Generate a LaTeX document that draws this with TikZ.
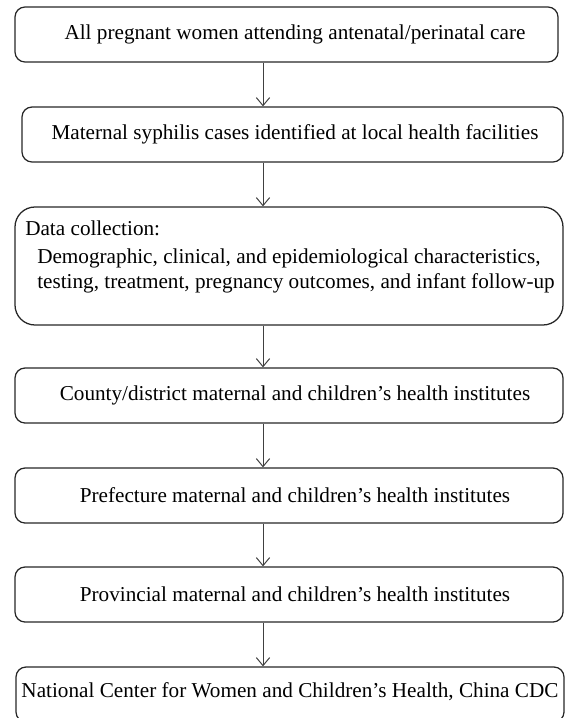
\documentclass[tikz,border=0pt]{standalone}
\usepackage{fontspec}
\setmainfont{Liberation Serif}
\usetikzlibrary{arrows.meta}
\begin{document}
\begin{tikzpicture}[x=0.75pt,y=-0.75pt,
  box/.style={draw=black!85, line width=0.95pt, rounded corners=7.5pt, inner sep=0pt, minimum height=41.25pt},
  bigbox/.style={draw=black!85, line width=0.95pt, rounded corners=15pt, inner sep=0pt},
  lbl/.style={font=\fontsize{15.9}{19}\selectfont, inner sep=0pt},
  arr/.style={draw=black!75, line width=0.75pt, -{Straight Barb[length=6pt,width=10pt]}}]
\useasboundingbox (0,0) rectangle (565,718);
\clip (0,0) rectangle (565,718);

% boxes
\node[box, minimum width=407.25pt] (b1) at (286.5,34.5) {};
\node[box, minimum width=405.75pt] (b2) at (292.5,134.5) {};
\node[bigbox, minimum width=411pt, minimum height=88.5pt] (b3) at (289,266) {};
\node[box, minimum width=411pt] (b4) at (289,395.5) {};
\node[box, minimum width=411pt] (b5) at (289,495.5) {};
\node[box, minimum width=411pt] (b6) at (289,594.5) {};
\node[box, minimum width=411pt] (b7) at (290,694.5) {};

% texts
\node[lbl] (t1) at (295,34) {All pregnant women attending antenatal/perinatal care};
\node[lbl] (t2) at (295,134) {Maternal syphilis cases identified at local health facilities};
\node[lbl, anchor=west] (t3a) at (25,228) {Data collection:};
\node[lbl, anchor=west, align=left] (t3b) at (37,271) {Demographic, clinical, and epidemiological characteristics,\\testing, treatment, pregnancy outcomes, and infant follow-up};
\node[lbl] (t4) at (295,395) {County/district maternal and children’s health institutes};
\node[lbl] (t5) at (295,495) {Prefecture maternal and children’s health institutes};
\node[lbl] (t6) at (295,594) {Provincial maternal and children’s health institutes};
\node[lbl] (t7) at (290,692) {National Center for Women and Children’s Health, China CDC};

% connectors
\coordinate (ax) at (263,0);
\draw[arr] (b1.south -| ax) -- (b2.north -| ax);
\draw[arr] (b2.south -| ax) -- (b3.north -| ax);
\draw[arr] (b3.south -| ax) -- (b4.north -| ax);
\draw[arr] (b4.south -| ax) -- (b5.north -| ax);
\draw[arr] (b5.south -| ax) -- (b6.north -| ax);
\draw[arr] (b6.south -| ax) -- (b7.north -| ax);
\end{tikzpicture}
\end{document}
